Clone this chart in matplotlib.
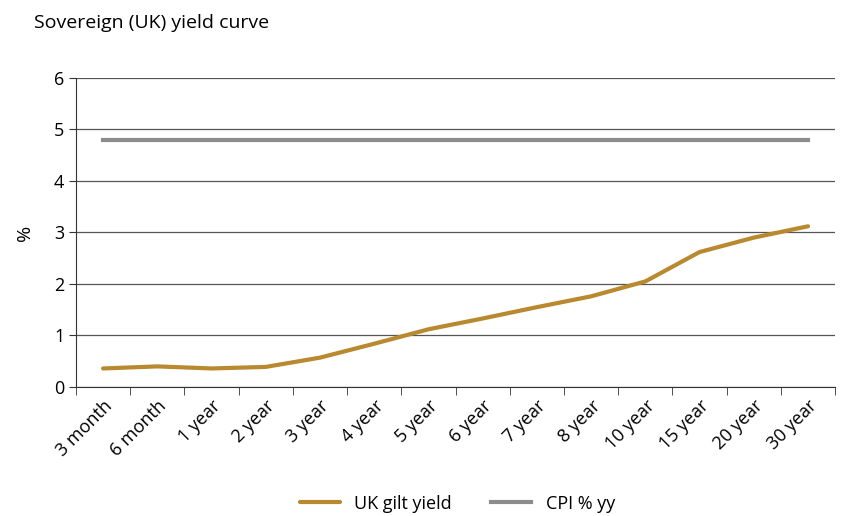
import numpy as np
import matplotlib.pyplot as plt
from matplotlib.ticker import FixedLocator

plt.rcParams['font.family'] = ['Open Sans', 'DejaVu Sans']

maturities = ["3 month", "6 month", "1 year", "2 year", "3 year", "4 year", "5 year",
              "6 year", "7 year", "8 year", "10 year", "15 year", "20 year", "30 year"]
gilt_yield = [0.36, 0.40, 0.36, 0.39, 0.57, 0.84, 1.12, 1.33, 1.55, 1.76, 2.05, 2.62, 2.90, 3.12]
cpi_yy = [4.8] * len(maturities)

fig = plt.figure(figsize=(8.47, 5.16), dpi=100)
ax = fig.add_axes([0.0897, 0.25, 0.8963, 0.599])

x = np.arange(len(maturities))
ax.plot(x, gilt_yield, color="#B8892F", lw=3, label="UK gilt yield", solid_capstyle="round")
ax.plot(x, cpi_yy, color="#8C8C8C", lw=3, label="CPI % yy")

ax.set_xlim(-0.5, len(maturities) - 0.5)
ax.set_ylim(0, 6)
ax.set_yticks(range(0, 7))
ax.yaxis.grid(True, color="#555555", lw=0.9)
ax.set_axisbelow(True)

ax.set_xticks(x)
ax.set_xticklabels(maturities, rotation=45, ha="right", rotation_mode="anchor", fontsize=13)
ax.tick_params(axis="x", length=0, pad=7)
ax.xaxis.set_minor_locator(FixedLocator(np.arange(-0.5, len(maturities), 1.0)))
ax.tick_params(axis="x", which="minor", length=6, color="#333333")
ax.tick_params(axis="y", length=5, color="#333333", labelsize=13)

for s in ["top", "right"]:
    ax.spines[s].set_visible(False)
for s in ["left", "bottom"]:
    ax.spines[s].set_color("#333333")

ax.set_ylabel("%", fontsize=14, labelpad=14)
fig.text(0.04, 0.955, "Sovereign (UK) yield curve", fontsize=14, ha="left", va="center")

fig.legend(loc="lower center", ncol=2, frameon=False, fontsize=13,
           bbox_to_anchor=(0.54, -0.025), handlelength=2.2, columnspacing=2.2)

fig.savefig("out.png", dpi=100)
